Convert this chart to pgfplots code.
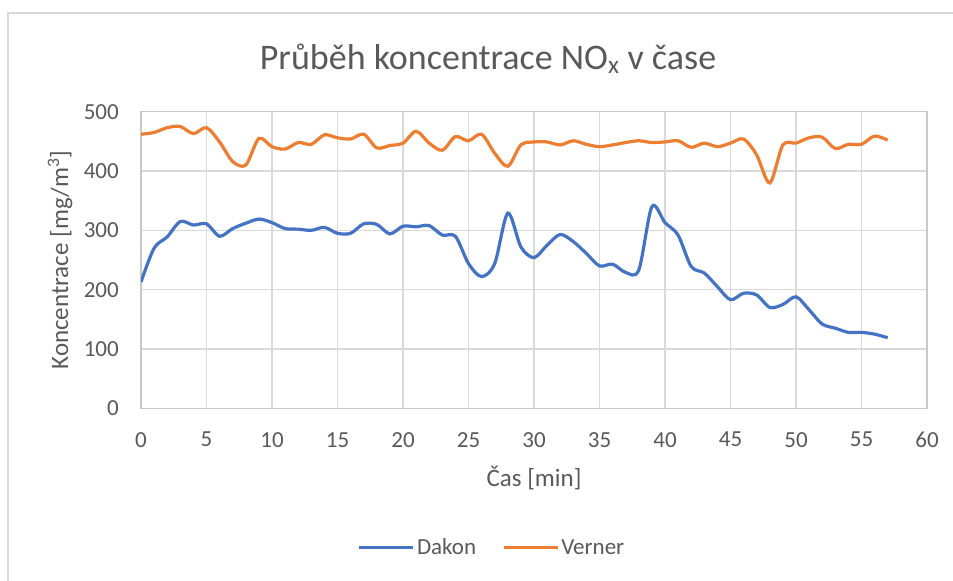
\documentclass[border=0pt]{standalone}
\usepackage{pgfplots}
\pgfplotsset{compat=1.18}
\usepackage{fontspec}
\setmainfont{Carlito}
\definecolor{dblue}{HTML}{4472C4}
\definecolor{vorange}{HTML}{ED7D31}
\definecolor{txt}{HTML}{595959}
\definecolor{gridc}{HTML}{D9D9D9}
\definecolor{axc}{HTML}{C8C8C8}
\begin{document}
\begin{tikzpicture}
\useasboundingbox (0bp,0bp) rectangle (953bp,581bp);
\draw[gridc, line width=1.5bp] (8bp,0bp) -- (8bp,568bp) -- (953bp,568bp);
\begin{axis}[
  at={(141bp,172.7bp)}, anchor=south west,
  scale only axis, width=786bp, height=296.6bp,
  xmin=0, xmax=60, ymin=0, ymax=500,
  xtick={0,5,...,60}, ytick={0,100,...,500},
  grid=major, grid style={gridc, line width=1.2bp},
  axis line style={axc, line width=1.2bp},
  major tick length=0pt,
  tick label style={font=\fontsize{23bp}{27bp}\selectfont, text=txt},
  /pgf/number format/assume math mode=true,
  yticklabel style={anchor=east, inner sep=0pt, xshift=-22bp},
  xticklabel style={anchor=north, inner sep=0pt, yshift=-23.7bp},
  xlabel={Čas [min]},
  ylabel={Koncentrace [mg/m\textsuperscript{3}]},
  label style={font=\fontsize{25bp}{30bp}\selectfont, text=txt},
  xlabel style={at={(axis description cs:0.5,-0.2643)}, anchor=base},
  ylabel style={at={(axis description cs:-0.103,0.5)}, anchor=center},
  legend columns=2,
  legend style={at={(0.4466,-0.47)}, anchor=center, draw=none, fill=none,
    font=\fontsize{23bp}{27bp}\selectfont, text=txt,
    /tikz/every even column/.append style={column sep=24bp},
    /tikz/every odd column/.append style={column sep=0bp}},
  legend image code/.code={\draw[#1, line width=3.2bp] (0bp,0bp) -- (54bp,0bp);},
]
\addplot[dblue, line width=3.2bp, smooth, tension=0.5] coordinates {
(0,213) (1,270) (2,289) (3,315) (4,309) (5,311) (6,290) (7,303) (8,312) (9,319)
(10,313) (11,303) (12,302) (13,300) (14,305) (15,295) (16,295) (17,311) (18,310) (19,294)
(20,307) (21,306) (22,308) (23,292) (24,290) (25,244) (26,222) (27,244) (28,329) (29,272)
(30,254) (31,275) (32,293) (33,281) (34,261) (35,240) (36,243) (37,229) (38,233) (39,340)
(40,313) (41,292) (42,239) (43,228) (44,205) (45,183) (46,194) (47,191) (48,170) (49,175)
(50,188) (51,166) (52,142) (53,135) (54,128) (55,128) (56,125) (57,119)
};
\addlegendentry{Dakon}
\addplot[vorange, line width=3.2bp, smooth, tension=0.5] coordinates {
(0,462) (1,465) (2,473) (3,475) (4,463) (5,473) (6,449) (7,416) (8,410) (9,455)
(10,441) (11,437) (12,448) (13,445) (14,461) (15,456) (16,454) (17,462) (18,439) (19,443)
(20,447) (21,467) (22,447) (23,435) (24,458) (25,451) (26,462) (27,430) (28,408) (29,444)
(30,449) (31,449) (32,444) (33,451) (34,445) (35,441) (36,444) (37,448) (38,451) (39,448)
(40,449) (41,451) (42,440) (43,447) (44,441) (45,447) (46,454) (47,427) (48,380) (49,444)
(50,447) (51,456) (52,457) (53,438) (54,445) (55,445) (56,459) (57,452)
};
\addlegendentry{Verner}
\end{axis}
\node[anchor=base, font=\fontsize{36bp}{42bp}\selectfont, text=txt] at (488bp,511.7bp)
  {Průběh koncentrace\ NO\textsubscript{x} v čase};
\end{tikzpicture}
\end{document}
